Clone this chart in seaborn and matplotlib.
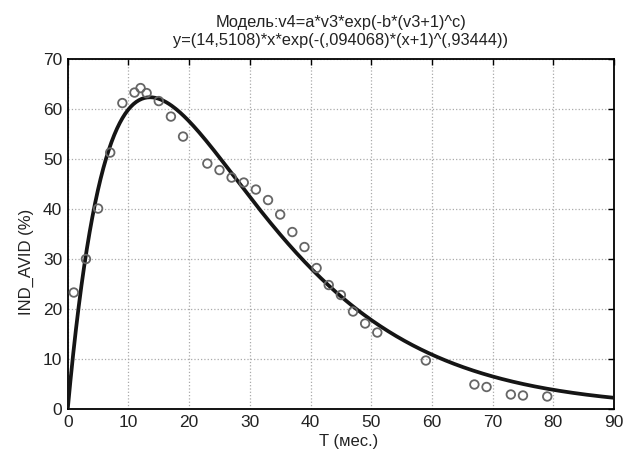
import numpy as np
import pandas as pd
import matplotlib
matplotlib.use("Agg")
import matplotlib.pyplot as plt
import seaborn as sns

# Observed points (T in months, IND_AVID in %)
t_obs = [1, 3, 5, 7, 9, 11, 12, 13, 15, 17, 19, 23, 25, 27, 29, 31, 33, 35,
         37, 39, 41, 43, 45, 47, 49, 51, 59, 67, 69, 73, 75, 79]
avid_obs = [23.3, 30.0, 40.1, 51.3, 61.2, 63.3, 64.2, 63.2, 61.6, 58.5, 54.5,
            49.1, 47.8, 46.3, 45.3, 43.9, 41.8, 38.9, 35.4, 32.4, 28.2, 24.8,
            22.8, 19.5, 17.1, 15.3, 9.7, 4.9, 4.4, 2.9, 2.7, 2.5]

# Fitted model parameters
a_par = 14.5108
b_par = 0.094068
c_par = 0.93444

x_ticks = [0, 10, 20, 30, 40, 50, 60, 70, 80, 90]
y_ticks = [0, 10, 20, 30, 40, 50, 60, 70]

title_lines = ["Модель:v4=a*v3*exp(-b*(v3+1)^c)",
               "y=(14,5108)*x*exp(-(,094068)*(x+1)^(,93444))"]


def main() -> None:
    sns.set_theme(style="white")
    plt.rcParams["font.family"] = ["Liberation Sans", "DejaVu Sans"]

    obs = pd.DataFrame({"T": t_obs, "AVID": avid_obs})
    xs = np.linspace(0, 90, 400)
    fit = pd.DataFrame({"T": xs,
                        "AVID": a_par * xs * np.exp(-b_par * (xs + 1) ** c_par)})

    fig = plt.figure(figsize=(6.33, 4.58), dpi=100)
    ax = fig.add_axes([0.107, 0.107, 0.863, 0.764])

    sns.lineplot(data=fit, x="T", y="AVID", ax=ax, color="#151515",
                 linewidth=2.7, zorder=3)
    sns.scatterplot(data=obs, x="T", y="AVID", ax=ax, marker="o",
                    facecolor="none", edgecolor="#666666", linewidth=1.3,
                    s=38, zorder=4)

    ax.set_xlim(0, 90)
    ax.set_ylim(0, 70)
    ax.set_xticks(x_ticks)
    ax.set_yticks(y_ticks)
    ax.grid(True, color="#aaaaaa", linestyle=":", linewidth=0.9)
    for sp in ax.spines.values():
        sp.set_color("black")
        sp.set_linewidth(1.3)
    ax.tick_params(direction="in", length=4, width=1, colors="black",
                   labelsize=12.5, top=True, right=True, labelcolor="#222222",
                   pad=4)

    ax.set_xlabel("T (мес.)", fontsize=12, color="#222222")
    ax.xaxis.set_label_coords(0.515, -0.072)
    ax.set_ylabel("IND_AVID (%)", fontsize=12, color="#222222")
    ax.yaxis.set_label_coords(-0.062, 0.42)
    ax.set_title("\n".join(title_lines), fontsize=11.8, color="#222222",
                 pad=10, linespacing=1.3)

    plt.savefig("out.png", dpi=100)
    plt.close()


if __name__ == "__main__":
    main()
